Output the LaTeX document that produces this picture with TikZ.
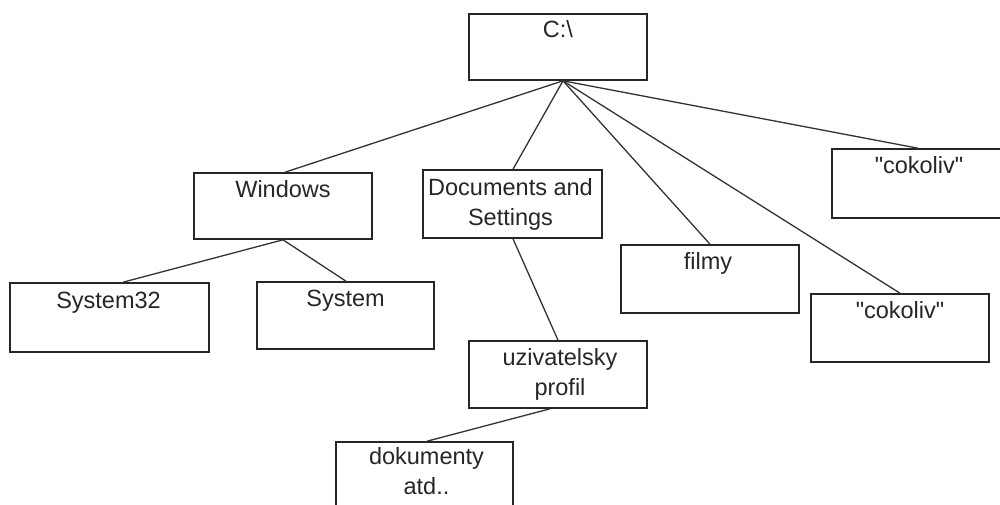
\documentclass[tikz,border=0pt]{standalone}
\usepackage{fontspec}
\setmainfont{Liberation Sans}
\begin{document}
\begin{tikzpicture}[x=1pt,y=-1pt,
  box/.style={draw=black!85,line width=1.6pt,rectangle,inner sep=0pt,minimum width=178pt,minimum height=66pt},
  lbl/.style={anchor=base,inner sep=0pt,align=center,font=\fontsize{23.5pt}{30pt}\selectfont,text=black!85},
  link/.style={draw=black!80,line width=1.3pt}]
\useasboundingbox (0,0) rectangle (1000,504);
\clip (0,0) rectangle (1000,504);
\fill[white] (0,0) rectangle (1000,504);
% boxes
\node[box] (c) at (558,47) {};
\node[box] (win) at (283,206) {};
\node[box,minimum width=179pt,minimum height=68pt] (doc) at (512.5,204) {};
\node[box,minimum height=69pt] (cok1) at (921,183.5) {};
\node[box,minimum height=68pt] (film) at (710,279) {};
\node[box,minimum height=68pt] (cok2) at (900,328) {};
\node[box,minimum width=199pt,minimum height=69pt] (s32) at (109.5,317.5) {};
\node[box,minimum width=177pt,minimum height=67pt] (sys) at (345.5,315.5) {};
\node[box,minimum height=67pt] (uzi) at (558,374.5) {};
\node[box,minimum width=177pt] (dok) at (424.5,475) {};
% labels
\node[lbl] (tc) at ([yshift=-24pt]c.north) {C:\textbackslash};
\node[lbl] (twin) at ([yshift=-25pt]win.north) {Windows};
\node[lbl] (tdoc) at ([yshift=-56pt,xshift=-2pt]doc.north) {Documents and\\Settings};
\node[lbl] (tcok1) at ([yshift=-25pt,xshift=-2pt]cok1.north) {\textquotedbl cokoliv\textquotedbl};
\node[lbl] (tfilm) at ([yshift=-25pt,xshift=-2pt]film.north) {filmy};
\node[lbl] (tcok2) at ([yshift=-25pt]cok2.north) {\textquotedbl cokoliv\textquotedbl};
\node[lbl] (ts32) at ([yshift=-26pt,xshift=-1pt]s32.north) {System32};
\node[lbl] (tsys) at ([yshift=-25pt]sys.north) {System};
\node[lbl] (tuzi) at ([yshift=-55pt,xshift=2pt]uzi.north) {uzivatelsky\\profil};
\node[lbl] (tdok) at ([yshift=-53pt,xshift=2pt]dok.north) {dokumenty\\atd..};
% connectors
\draw[link] ([xshift=5pt]c.south) -- ([xshift=2pt]win.north);
\draw[link] ([xshift=5pt]c.south) -- ([xshift=0.5pt]doc.north);
\draw[link] ([xshift=5pt]c.south) -- (film.north);
\draw[link] ([xshift=5pt]c.south) -- (cok2.north);
\draw[link] ([xshift=5pt]c.south) -- ([xshift=-3pt]cok1.north);
\draw[link] (win.south) -- ([xshift=13.5pt]s32.north);
\draw[link] (win.south) -- ([xshift=0.5pt]sys.north);
\draw[link] ([xshift=0.5pt]doc.south) -- (uzi.north);
\draw[link] ([xshift=-8pt]uzi.south) -- ([xshift=2.5pt]dok.north);
\end{tikzpicture}
\end{document}
